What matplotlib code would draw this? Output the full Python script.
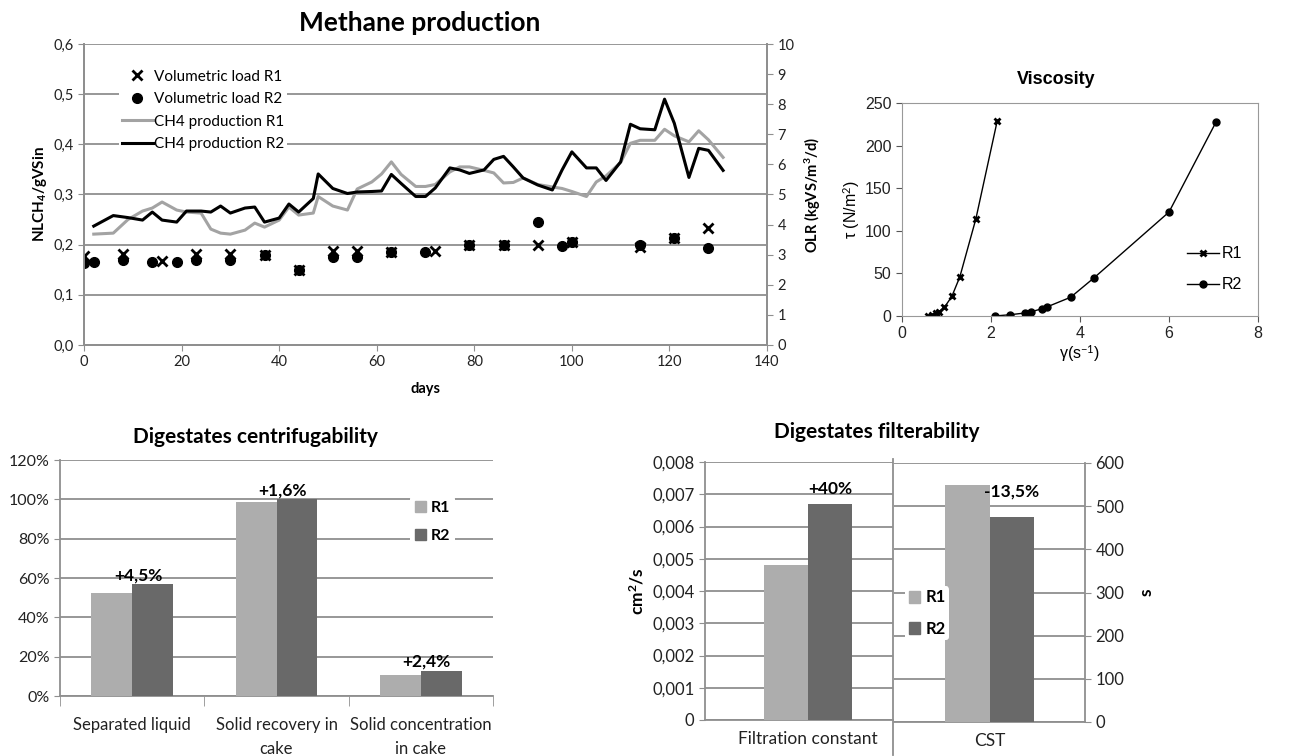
import matplotlib
matplotlib.use("Agg")
import numpy as np
import matplotlib.pyplot as plt
from matplotlib.ticker import FuncFormatter, FixedLocator
from matplotlib.lines import Line2D
from matplotlib.patches import Patch

plt.rcParams['font.family'] = ['Lato', 'DejaVu Sans']
plt.rcParams['mathtext.fontset'] = 'custom'
plt.rcParams['mathtext.rm'] = 'Lato'
plt.rcParams['mathtext.bf'] = 'Lato:bold'
plt.rcParams['mathtext.it'] = 'Lato:italic'

# ---- methane production ----
days = [2, 6, 9, 12, 14, 16, 19, 21, 24, 26, 28, 30, 33, 35, 37, 40, 42, 44, 47, 48,
        51, 54, 56, 59, 61, 63, 65, 68, 70, 72, 75, 77, 79, 82, 84, 86, 88, 90, 93, 96,
        98, 100, 103, 105, 107, 110, 112, 114, 117, 119, 121, 124, 126, 128, 131]
ch4_r1 = [0.221, 0.223, 0.250, 0.267, 0.273, 0.285, 0.269, 0.265, 0.263, 0.231, 0.223,
          0.221, 0.229, 0.243, 0.235, 0.249, 0.275, 0.259, 0.263, 0.296, 0.277, 0.269,
          0.311, 0.325, 0.341, 0.365, 0.340, 0.316, 0.316, 0.320, 0.345, 0.355, 0.355,
          0.348, 0.343, 0.323, 0.324, 0.333, 0.320, 0.315, 0.312, 0.306, 0.296, 0.325,
          0.337, 0.364, 0.402, 0.408, 0.408, 0.430, 0.417, 0.405, 0.427, 0.409, 0.374]
ch4_r2 = [0.237, 0.258, 0.254, 0.249, 0.265, 0.249, 0.245, 0.267, 0.267, 0.265, 0.277,
          0.263, 0.273, 0.275, 0.245, 0.253, 0.281, 0.265, 0.292, 0.341, 0.312, 0.302,
          0.305, 0.306, 0.307, 0.340, 0.322, 0.296, 0.296, 0.313, 0.353, 0.349, 0.342,
          0.349, 0.370, 0.376, 0.355, 0.333, 0.319, 0.309, 0.349, 0.385, 0.353, 0.353,
          0.328, 0.365, 0.440, 0.431, 0.429, 0.490, 0.442, 0.334, 0.392, 0.388, 0.348]

olr_r1_days = [0, 8, 16, 23, 30, 37, 44, 51, 56, 63, 72, 79, 86, 93, 100, 114, 121, 128]
olr_r1 = [2.96, 3.02, 2.79, 3.02, 3.02, 2.99, 2.49, 3.12, 3.12, 3.09, 3.12, 3.32, 3.32,
          3.32, 3.42, 3.25, 3.55, 3.89]
olr_r2_days = [0, 2, 8, 14, 19, 23, 30, 37, 44, 51, 56, 63, 70, 79, 86, 93, 98, 100,
               114, 121, 128]
olr_r2 = [2.72, 2.76, 2.82, 2.76, 2.76, 2.82, 2.82, 2.99, 2.49, 2.92, 2.92, 3.09, 3.09,
          3.32, 3.32, 4.09, 3.29, 3.42, 3.32, 3.55, 3.22]

# ---- viscosity ----
gamma_r1 = [0.58, 0.67, 0.76, 0.83, 0.95, 1.12, 1.30, 1.66, 2.14]
tau_r1 = [0.3, 1, 3, 5, 10, 23, 46, 114, 229]
gamma_r2 = [2.08, 2.43, 2.76, 2.91, 3.14, 3.25, 3.79, 4.32, 6.0, 7.06]
tau_r2 = [0, 1.5, 3.5, 5, 8.5, 10.5, 22, 45, 122, 228]

# ---- centrifugability ----
centr_cats = ['Separated liquid', 'Solid recovery in\ncake', 'Solid concentration\nin cake']
centr_r1 = [52.2, 98.4, 10.5]
centr_r2 = [56.7, 100.0, 12.9]
centr_labels = ['+4,5%', '+1,6%', '+2,4%']

# ---- filterability ----
filt_r1 = [0.0048]
filt_r2 = [0.0067]
cst_r1 = [548]
cst_r2 = [474]

W, H = 1300, 756
GRID = '#8f8f8f'
LIGHT = '#adadad'
DARK = '#696969'
TXT = '#222222'
ARIAL = 'Liberation Sans'


def box(l, t, r, b):
    return [l / W, 1 - b / H, (r - l) / W, (b - t) / H]


def comma(fmt):
    return FuncFormatter(lambda v, p: (fmt % v).replace('.', ','))


fig = plt.figure(figsize=(13, 7.56), dpi=100)
fig.patch.set_facecolor('white')

# ================= Methane production =================
ax1 = fig.add_axes(box(84, 44, 767, 345))
ax1r = ax1.twinx()
ax1.plot(days, ch4_r1, color='#a3a3a3', lw=2.2, label='CH4 production R1')
ax1.plot(days, ch4_r2, color='black', lw=2.2, label='CH4 production R2')
ax1r.plot(olr_r1_days, olr_r1, 'x', color='black', ms=7, mew=2, label='Volumetric load R1')
ax1r.plot(olr_r2_days, olr_r2, 'o', color='black', ms=7, label='Volumetric load R2')
ax1.set_xlim(0, 140)
ax1.set_ylim(0, 0.6)
ax1r.set_ylim(0, 10)
ax1.set_xticks(range(0, 141, 20))
ax1.set_yticks(np.arange(0, 0.61, 0.1))
ax1.yaxis.set_major_formatter(comma('%.1f'))
ax1r.set_yticks(range(0, 11))
ax1.grid(axis='y', color=GRID, lw=1.3)
ax1.set_axisbelow(True)
for a in (ax1, ax1r):
    for s in a.spines.values():
        s.set_color(GRID)
        s.set_linewidth(1.3)
    a.spines['top'].set_visible(False)
    a.tick_params(direction='out', length=4, color=GRID, labelsize=10.5, labelcolor=TXT)
ax1.set_ylabel(r'NLCH$_\mathbf{4}$/gVSin', fontsize=11, fontweight='bold', labelpad=3)
ax1r.set_ylabel(r'OLR (kgVS/m$^\mathbf{3}$/d)', fontsize=10.5, fontweight='bold', labelpad=6)
ax1.set_xlabel('days', fontsize=10.5, fontweight='bold', labelpad=9)
h1, l1 = ax1.get_legend_handles_labels()
h2, l2 = ax1r.get_legend_handles_labels()
leg = ax1r.legend(h2 + h1, l2 + l1, loc='upper left', bbox_to_anchor=(0.04, 0.95),
                  fontsize=11, frameon=True, framealpha=1, edgecolor='none',
                  handlelength=2.0, labelspacing=0.55, borderpad=0.2, handletextpad=0.1)
fig.text(420 / W, 1 - 23 / H, 'Methane production', fontsize=19, fontweight='bold',
         ha='center', va='center')

# ================= Viscosity =================
ax2 = fig.add_axes(box(902, 103, 1258, 316))
ax2.plot(gamma_r1, tau_r1, '-x', color='black', lw=1, ms=5, mew=2, label='R1')
ax2.plot(gamma_r2, tau_r2, '-o', color='black', lw=1, ms=5, label='R2')
ax2.set_xlim(0, 8)
ax2.set_ylim(0, 250)
ax2.set_xticks(range(0, 9, 2))
ax2.set_yticks(range(0, 251, 50))
for s in ax2.spines.values():
    s.set_color('#999999')
ax2.tick_params(direction='out', length=4, color='#555555', labelsize=11.5, labelcolor=TXT)
for lab in ax2.get_xticklabels() + ax2.get_yticklabels():
    lab.set_family(ARIAL)
ax2.set_xlabel('γ(s$^{-1}$)', fontsize=11.5, family=ARIAL, labelpad=1)
ax2.set_ylabel('τ (N/m$^2$)', fontsize=11.5, family=ARIAL, labelpad=2)
ax2.legend(loc='center left', bbox_to_anchor=(0.76, 0.22), frameon=False,
           prop={'family': ARIAL, 'size': 11.5}, handlelength=2.0,
           labelspacing=1.0, handletextpad=0.2)
fig.text(1056 / W, 1 - 80 / H, 'Viscosity', fontsize=13, fontweight='bold',
         family=ARIAL, ha='center', va='center')

# ================= Digestates centrifugability =================
ax3 = fig.add_axes(box(60, 460, 493, 696))
x = np.arange(len(centr_cats))
w = 0.284
ax3.bar(x - w / 2, centr_r1, w, color=LIGHT, label='R1', zorder=3)
ax3.bar(x + w / 2, centr_r2, w, color=DARK, label='R2', zorder=3)
for xi, v, t in zip(x, centr_r2, centr_labels):
    ax3.text(xi + 0.04, v + 0.5, t, ha='center', va='bottom', fontsize=12.5,
             fontweight='bold', zorder=4)
ax3.set_xlim(-0.5, 2.5)
ax3.set_ylim(0, 120)
ax3.set_yticks(range(0, 121, 20))
ax3.yaxis.set_major_formatter(FuncFormatter(lambda v, p: '%d%%' % v))
ax3.set_xticks(x)
ax3.set_xticklabels(centr_cats, linespacing=1.6)
ax3.xaxis.set_minor_locator(FixedLocator([-0.5, 0.5, 1.5, 2.5]))
ax3.tick_params(axis='x', which='major', length=0, labelsize=12, pad=15, labelcolor=TXT)
ax3.tick_params(axis='x', which='minor', length=7, color=GRID, direction='out')
ax3.tick_params(axis='y', length=4, color=GRID, direction='out', labelsize=11.5,
                labelcolor=TXT)
ax3.grid(axis='y', color=GRID, lw=1.3, zorder=0)
for k in ('top', 'right'):
    ax3.spines[k].set_visible(False)
for k in ('left', 'bottom'):
    ax3.spines[k].set_color(GRID)
    ax3.spines[k].set_linewidth(1.3)
ax3.legend(handles=[Patch(color=LIGHT, label='R1'), Patch(color=DARK, label='R2')],
           loc='center left', bbox_to_anchor=(402 / W, 1 - 522 / H),
           bbox_transform=fig.transFigure, frameon=True, framealpha=1,
           edgecolor='none', handlelength=0.7, handleheight=0.7, handletextpad=0.3,
           labelspacing=0.9, borderpad=0.3, prop={'weight': 'bold', 'size': 11.5})
fig.text(255 / W, 1 - 437 / H, 'Digestates centrifugability', fontsize=15,
         fontweight='bold', ha='center', va='center')

# ================= Digestates filterability =================
ax4 = fig.add_axes(box(705, 462, 893, 720))
wf = 0.234
ax4.bar([-wf / 2], filt_r1, wf, color=LIGHT, zorder=3)
ax4.bar([wf / 2], filt_r2, wf, color=DARK, zorder=3)
ax4.text(wf / 2, filt_r2[0] + 0.0002, '+40%', ha='center', va='bottom', fontsize=12.5,
         fontweight='bold', zorder=4)
ax4.set_xlim(-0.548, 0.452)
ax4.set_ylim(0, 0.008)
ax4.set_yticks(np.arange(0, 0.0081, 0.001))
ax4.yaxis.set_major_formatter(
    FuncFormatter(lambda v, p: '0' if v < 1e-9 else ('%.3f' % v).replace('.', ',')))
ax4.set_xticks([0])
ax4.set_xticklabels(['Filtration constant'])
ax4.tick_params(axis='x', length=0, labelsize=12.5, pad=8, labelcolor=TXT)
ax4.tick_params(axis='y', length=4, color=GRID, direction='out', labelsize=12,
                labelcolor=TXT)
ax4.grid(axis='y', color=GRID, lw=1.3, zorder=0)
for k in ('top', 'right'):
    ax4.spines[k].set_visible(False)
for k in ('left', 'bottom'):
    ax4.spines[k].set_color(GRID)
    ax4.spines[k].set_linewidth(1.3)
ax4.set_ylabel(r'cm$^\mathbf{2}$/s', fontsize=12.5, fontweight='bold', labelpad=4)

ax5 = fig.add_axes(box(894, 463, 1085, 722))
ax5.bar([-wf / 2], cst_r1, wf, color=LIGHT, zorder=3)
ax5.bar([wf / 2], cst_r2, wf, color=DARK, zorder=3)
ax5.text(wf / 2, cst_r1[0] - 32, '-13,5%', ha='center', va='bottom', fontsize=12.5,
         fontweight='bold', zorder=4)
ax5.set_xlim(-0.5, 0.5)
ax5.set_ylim(0, 600)
ax5.set_yticks(range(0, 601, 100))
ax5.set_xticks([0])
ax5.set_xticklabels(['CST'])
ax5.yaxis.tick_right()
ax5.yaxis.set_label_position('right')
ax5.tick_params(axis='x', length=0, labelsize=12.5, pad=8, labelcolor=TXT)
ax5.tick_params(axis='y', length=4, color=GRID, direction='out', labelsize=12,
                labelcolor=TXT)
ax5.grid(axis='y', color=GRID, lw=1.3, zorder=0)
for k in ('top', 'left'):
    ax5.spines[k].set_visible(False)
for k in ('right', 'bottom'):
    ax5.spines[k].set_color(GRID)
    ax5.spines[k].set_linewidth(1.3)
ax5.set_ylabel('s', fontsize=12.5, fontweight='bold', labelpad=10, rotation=90)
ax5.legend(handles=[Patch(color=LIGHT, label='R1'), Patch(color=DARK, label='R2')],
           loc='center left', bbox_to_anchor=(897 / W, 1 - 613 / H),
           bbox_transform=fig.transFigure, frameon=True, framealpha=1,
           edgecolor='none', handlelength=0.7, handleheight=0.7, handletextpad=0.3,
           labelspacing=0.9, borderpad=0.2, prop={'weight': 'bold', 'size': 12})
fig.add_artist(Line2D([893 / W, 893 / W], [1 - 755 / H, 1 - 459 / H], color=GRID,
                      lw=1.3, zorder=10))
fig.text(877 / W, 1 - 432 / H, 'Digestates filterability', fontsize=15,
         fontweight='bold', ha='center', va='center')

fig.savefig('out.png', dpi=100, facecolor='white')
